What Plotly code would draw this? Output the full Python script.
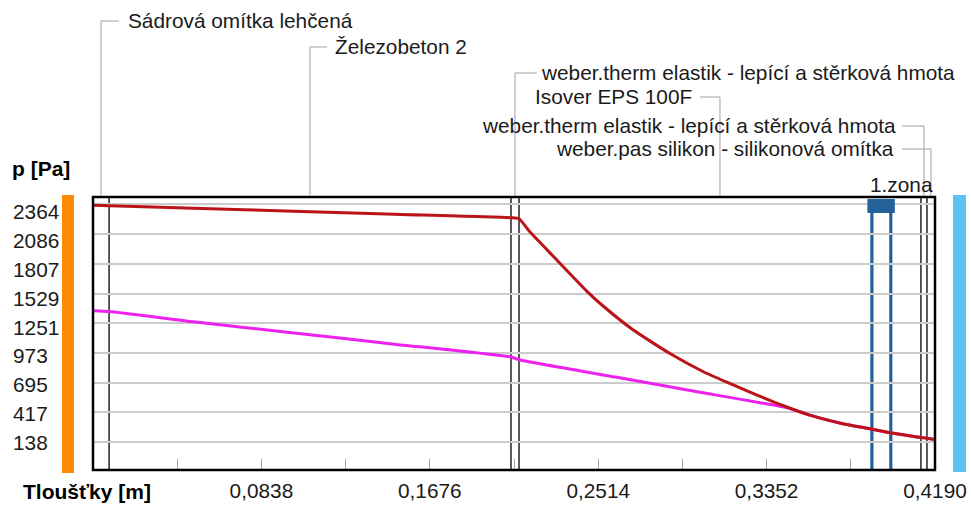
import plotly.graph_objects as go

# ---------------- data ----------------
layer_bounds = [0.0, 0.008, 0.208, 0.212, 0.412, 0.415, 0.419]
layer_names = [
    "Sádrová omítka lehčená",
    "Železobeton 2",
    "weber.therm elastik - lepící a stěrková hmota",
    "Isover EPS 100F",
    "weber.therm elastik - lepící a stěrková hmota",
    "weber.pas silikon - silikonová omítka",
]

# saturated vapour pressure (red)
psat_x = [0.0, 0.008, 0.05, 0.1, 0.15, 0.208, 0.212, 0.2174, 0.2289, 0.2458,
          0.2537, 0.2687, 0.2871, 0.3035, 0.3154, 0.3269, 0.3433, 0.3567,
          0.3731, 0.3866, 0.3965, 0.41, 0.412, 0.415, 0.419]
psat_y = [2356, 2351, 2327, 2299, 2270, 2238, 2228, 2106, 1880, 1550,
          1415, 1190, 968, 800, 700, 608, 482, 392,
          312, 264, 228, 188, 183, 176, 165]

# partial vapour pressure (magenta)
p_x = [0.0, 0.008, 0.05, 0.1, 0.15, 0.208, 0.212, 0.26, 0.30, 0.346,
       0.3567, 0.3731, 0.3866, 0.3965, 0.41, 0.412, 0.415, 0.419]
p_y = [1369, 1362, 1265, 1160, 1056, 935, 910, 748, 613, 458,
       392, 312, 264, 228, 188, 183, 176, 165]

zone = [0.3876, 0.397]
zone_label = "1.zona"

y_ticks = [138, 417, 695, 973, 1251, 1529, 1807, 2086, 2364]
x_ticks = [0.0, 0.0419, 0.0838, 0.1257, 0.1676, 0.2095, 0.2514, 0.2933, 0.3352, 0.3771, 0.419]
x_ticktext = ["", "", "0,0838", "", "0,1676", "", "0,2514", "", "0,3352", "", "0,4190"]

x_title = "Tloušťky [m]"
y_title = "p [Pa]"

# ---------------- layout geometry (reference pixel coords) ----------------
W, H = 971, 505
L, R, T, B = 93, 935, 197, 470
PW, PH = R - L, B - T
XMAX = layer_bounds[-1]
YR = [-121, 2432]

FONT = "Liberation Sans"
FS = 20.8
TXT = "#1a1a1a"


def pxx(px):
    return (px - L) / PW


def pxy(py):
    return (B - py) / PH


def xp(v):
    return v / XMAX


fig = go.Figure()

fig.add_trace(go.Scatter(x=p_x, y=p_y, mode="lines",
                         line=dict(color="#EE22EE", width=3, shape="spline", smoothing=0.5),
                         hoverinfo="skip"))
fig.add_trace(go.Scatter(x=psat_x, y=psat_y, mode="lines",
                         line=dict(color="#BB1418", width=3, shape="spline", smoothing=0.5),
                         hoverinfo="skip"))

shapes = []
# layer boundaries
for b in layer_bounds[1:-1]:
    shapes.append(dict(type="line", xref="x", yref="paper", x0=b, x1=b, y0=0, y1=1,
                       line=dict(color="black", width=1.3), layer="between"))

# condensation zone
zc = "#23619A"
for z in zone:
    shapes.append(dict(type="line", xref="x", yref="paper", x0=z, x1=z, y0=0, y1=pxy(207),
                       line=dict(color=zc, width=3.2), layer="between"))
shapes.append(dict(type="rect", xref="x", yref="paper",
                   x0=zone[0] - 4.5 / PW * XMAX, x1=zone[1] + 4 / PW * XMAX,
                   y0=pxy(213), y1=pxy(199), line=dict(width=0), fillcolor=zc, layer="above"))

# frame
shapes.append(dict(type="rect", xref="paper", yref="paper", x0=0, x1=1, y0=0, y1=1,
                   line=dict(color="black", width=2.5), layer="above"))

# side bars
shapes.append(dict(type="rect", xref="paper", yref="paper", x0=pxx(62), x1=pxx(74),
                   y0=pxy(473), y1=pxy(195), fillcolor="#FF8A00", line=dict(width=0)))
shapes.append(dict(type="rect", xref="paper", yref="paper", x0=pxx(953), x1=pxx(966),
                   y0=pxy(472), y1=pxy(195), fillcolor="#5EC0F5", line=dict(width=0)))

annotations = []
# layer labels with leader lines: (label y px, side, horizontal length px, gap px)
label_spec = [
    (21, "right", 18, 7),
    (47, "right", 17, 6),
    (73, "right", 22, 2),
    (97, "left", 20, 6),
    (126, "left", 22, 4),
    (149, "left", 29, 6),
]
lead = "#A0A0A0"
for i, name in enumerate(layer_names):
    mid = (layer_bounds[i] + layer_bounds[i + 1]) / 2
    ly, side, hl, gap = label_spec[i]
    mx = xp(mid)
    shapes.append(dict(type="line", xref="paper", yref="paper", x0=mx, x1=mx,
                       y0=pxy(196), y1=pxy(ly), line=dict(color=lead, width=1)))
    sgn = 1 if side == "right" else -1
    hx = mx + sgn * hl / PW
    shapes.append(dict(type="line", xref="paper", yref="paper", x0=mx, x1=hx,
                       y0=pxy(ly), y1=pxy(ly), line=dict(color=lead, width=1)))
    annotations.append(dict(text=name, xref="paper", yref="paper", x=hx, y=pxy(ly - 1),
                            xshift=sgn * gap, xanchor="left" if side == "right" else "right",
                            yanchor="middle", showarrow=False,
                            font=dict(family=FONT, size=FS, color=TXT)))

annotations.append(dict(text=zone_label, xref="paper", yref="paper", x=1.0, y=pxy(185),
                        xanchor="right", yanchor="middle", showarrow=False,
                        font=dict(family=FONT, size=FS, color=TXT)))

# y tick labels (left aligned, beside the orange bar)
for k, t in enumerate(y_ticks):
    annotations.append(dict(text=str(t), xref="paper", yref="y", x=pxx(11), y=t,
                            yshift=-(0.2 + 0.9 * k), xanchor="left", yanchor="middle",
                            showarrow=False, font=dict(family=FONT, size=FS, color=TXT)))

annotations.append(dict(text="<b>" + y_title + "</b>", xref="paper", yref="paper",
                        x=pxx(10), y=pxy(169), xanchor="left", yanchor="middle",
                        showarrow=False, font=dict(family=FONT, size=21, color="black")))
annotations.append(dict(text="<b>" + x_title + "</b>", xref="paper", yref="paper",
                        x=pxx(21), y=pxy(491), xanchor="left", yanchor="middle",
                        showarrow=False, font=dict(family=FONT, size=21, color="black")))

fig.update_layout(
    width=W, height=H,
    margin=dict(l=L, r=W - R, t=T, b=H - B, pad=0, autoexpand=False),
    paper_bgcolor="white", plot_bgcolor="white",
    showlegend=False,
    shapes=shapes, annotations=annotations,
    xaxis=dict(range=[0, XMAX], showgrid=False, zeroline=False, showline=False,
               automargin=False, ticklabeloverflow="allow",
               tickmode="array", tickvals=x_ticks, ticktext=x_ticktext,
               ticks="inside", ticklen=11, tickwidth=1, tickcolor="#A8A8A8",
               ticklabelstandoff=6,
               tickfont=dict(family=FONT, size=FS, color=TXT)),
    yaxis=dict(range=YR, showgrid=True, gridcolor="#CCCCCC", gridwidth=2,
               automargin=False,
               zeroline=False, showline=False, tickmode="array", tickvals=y_ticks,
               showticklabels=False, ticks=""),
)

fig.write_html(
    "out.html",
    config={"displayModeBar": False},
    post_script="document.body.style.margin='0';document.body.style.overflow='hidden';",
)
